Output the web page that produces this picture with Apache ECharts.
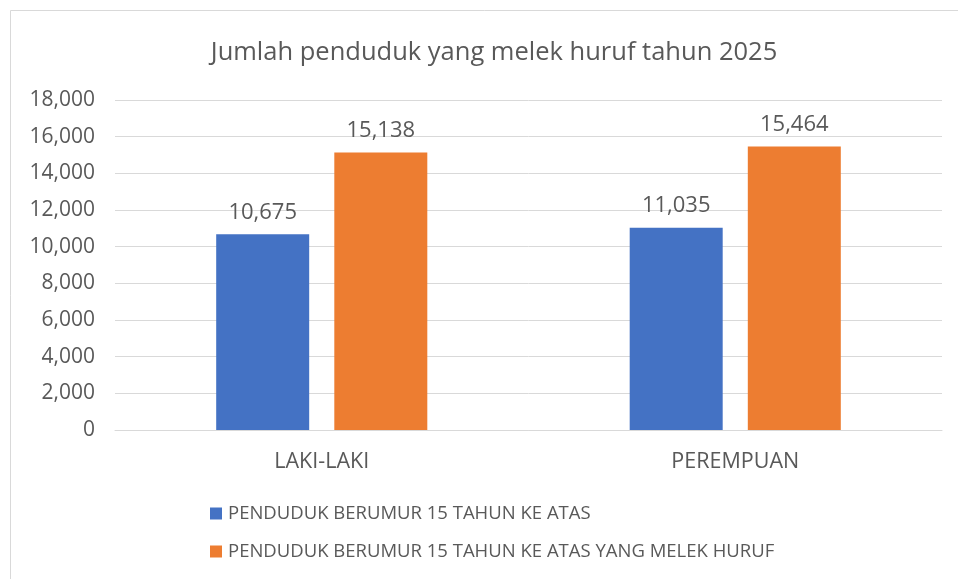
<!DOCTYPE html>
<html>
<head>
<meta charset="utf-8">
<script src="https://cdn.jsdelivr.net/npm/echarts@6/dist/echarts.min.js"></script>
<style>
  html, body { margin: 0; padding: 0; background: #fff; }
  #chart { width: 958px; height: 579px; }
</style>
</head>
<body>
<div id="chart"></div>
<script>
const categories = ['LAKI-LAKI', 'PEREMPUAN'];
const seriesNames = [
    'PENDUDUK BERUMUR 15 TAHUN KE ATAS',
    'PENDUDUK BERUMUR 15 TAHUN KE ATAS YANG MELEK HURUF'
];
const totalValues = [10675, 11035];
const literateValues = [15138, 15464];
const colors = ['#4472C4', '#ED7D31'];

const font = '"Open Sans", "Noto Sans", sans-serif';
const textColor = '#595959';

const labelCfg = {
    show: true,
    position: 'top',
    distance: 11,
    color: textColor,
    fontSize: 22,
    fontFamily: font,
    formatter: p => p.value.toLocaleString('en-US')
};

const option = {
    animation: false,
    backgroundColor: '#fff',
    title: {
        text: 'Jumlah penduduk yang melek huruf tahun 2025',
        left: 489,
        textAlign: 'center',
        top: 35,
        textStyle: {
            color: textColor,
            fontSize: 25.5,
            fontWeight: 'normal',
            fontFamily: font
        }
    },
    graphic: [{
        type: 'rect',
        shape: { x: 10.5, y: 10.5, width: 1000, height: 1000 },
        style: { fill: 'none', stroke: '#d9d9d9', lineWidth: 1 },
        silent: true
    }],
    legend: {
        orient: 'vertical',
        left: 205,
        top: 499,
        itemWidth: 12,
        itemHeight: 12,
        itemGap: 19,
        icon: 'rect',
        data: seriesNames,
        textStyle: {
            color: textColor,
            fontSize: 18.5,
            fontFamily: font,
            padding: [0, 0, 0, 1]
        }
    },
    grid: {
        left: 115,
        right: 16,
        top: 100,
        bottom: 149
    },
    xAxis: {
        type: 'category',
        data: categories,
        axisLine: { lineStyle: { color: '#d9d9d9' } },
        axisTick: { show: false },
        axisLabel: {
            color: textColor,
            fontSize: 21.5,
            fontFamily: font,
            margin: 21
        }
    },
    yAxis: {
        type: 'value',
        min: 0,
        max: 18000,
        interval: 2000,
        axisLine: { show: false },
        axisTick: { show: false },
        splitLine: { lineStyle: { color: '#d9d9d9' } },
        axisLabel: {
            color: textColor,
            fontSize: 21,
            fontFamily: font,
            margin: 20,
            formatter: v => v.toLocaleString('en-US')
        }
    },
    series: [
        {
            name: seriesNames[0],
            type: 'bar',
            data: totalValues,
            barWidth: 93,
            barGap: '27%',
            itemStyle: { color: colors[0] },
            label: labelCfg
        },
        {
            name: seriesNames[1],
            type: 'bar',
            data: literateValues,
            barWidth: 93,
            barGap: '27%',
            itemStyle: { color: colors[1] },
            label: labelCfg
        }
    ]
};

const myChart = echarts.init(document.getElementById('chart'));
myChart.setOption(option);
</script>
</body>
</html>
